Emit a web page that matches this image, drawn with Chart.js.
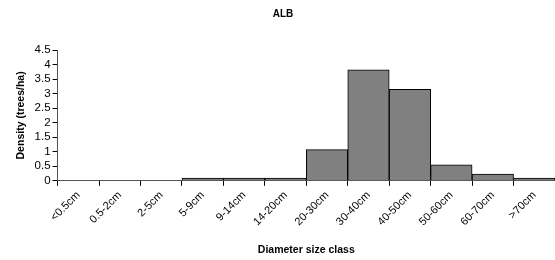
<!DOCTYPE html>
<html><head><meta charset="utf-8">
<script src="https://cdn.jsdelivr.net/npm/chart.js@4/dist/chart.umd.min.js"></script>
<style>html,body{margin:0;padding:0;background:#fff}#w{width:555px;height:260px}</style>
</head><body><div id="w"><canvas id="c"></canvas></div>
<script>
const categories = ["<0.5cm","0.5-2cm","2-5cm","5-9cm","9-14cm","14-20cm","20-30cm","30-40cm","40-50cm","50-60cm","60-70cm",">70cm"];
const density = [0,0,0,0.09,0.09,0.09,1.07,3.82,3.15,0.55,0.23,0.09];
const yTicks = [0,0.5,1,1.5,2,2.5,3,3.5,4,4.5];
const FONT = "'Liberation Sans', Arial, sans-serif";
new Chart(document.getElementById('c'), {
  type: 'bar',
  data: { labels: categories, datasets: [{ data: density, backgroundColor: '#808080', borderColor: '#000', borderWidth: 1, barPercentage: 1, categoryPercentage: 1 }] },
  options: {
    responsive: true, maintainAspectRatio: false, animation: false,
    layout: { padding: { left: 11, right: 0, top: 0, bottom: 0 } },
    plugins: {
      legend: { display: false }, tooltip: { enabled: false },
      title: { display: true, text: 'ALB', color: '#000', font: { family: FONT, size: 10, weight: 'bold' }, padding: { top: 8, bottom: 30 } }
    },
    scales: {
      x: {
        grid: { display: true, drawOnChartArea: false, offset: true, color: '#000', tickLength: 5 },
        border: { color: '#555' },
        ticks: { color: '#000', font: { family: FONT, size: 11 }, maxRotation: 45, minRotation: 45, padding: 3, autoSkip: false },
        title: { display: true, text: 'Diameter size class', color: '#000', font: { family: FONT, size: 10.5, weight: 'bold' }, padding: { top: 12 } }
      },
      y: {
        min: 0, max: 4.5,
        afterBuildTicks: s => { s.ticks = yTicks.map(v => ({ value: v })); },
        grid: { display: true, drawOnChartArea: false, color: '#000', tickLength: 5 },
        border: { color: '#555' },
        ticks: { color: '#000', font: { family: FONT, size: 11.5 }, padding: 2, autoSkip: false, callback: v => String(v) },
        title: { display: true, text: 'Density (trees/ha)', color: '#000', font: { family: FONT, size: 10.5, weight: 'bold' }, padding: { bottom: 5 } }
      }
    }
  }
});
</script></body></html>
